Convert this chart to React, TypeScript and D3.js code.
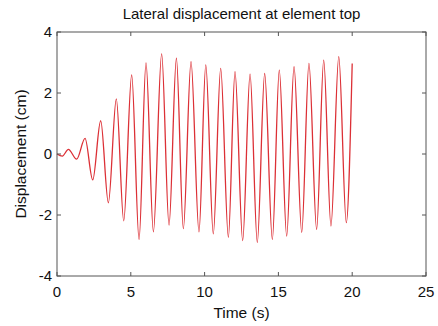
import React from "react";
import * as d3 from "d3";

// turning points of the displacement trace
const times = [
  0, 0.36, 0.77, 1.33, 1.9, 2.42, 2.96, 3.48, 4.02, 4.52, 5.06, 5.56, 6.03,
  6.53, 7.09, 7.59, 8.09, 8.56, 9.08, 9.62, 10.08, 10.59, 11.09, 11.61, 12.06,
  12.58, 13.08, 13.57, 14.07, 14.59, 15.06, 15.56, 16.06, 16.58, 17.07, 17.59,
  18.07, 18.56, 19.09, 19.6, 20.0
];
const displacement = [
  0, -0.07, 0.15, -0.17, 0.51, -0.85, 1.09, -1.6, 1.81, -2.19, 2.59, -2.8,
  2.99, -2.55, 3.28, -2.33, 3.14, -2.45, 3.03, -2.55, 2.92, -2.62, 2.81, -2.73,
  2.7, -2.84, 2.62, -2.9, 2.64, -2.8, 2.75, -2.69, 2.86, -2.57, 2.97, -2.47,
  3.08, -2.36, 3.19, -2.25, 2.97
];
const xTicks = [0, 5, 10, 15, 20, 25];
const yTicks = [-4, -2, 0, 2, 4];

const width = 438,
  height = 326;
const margin = { left: 57, right: 12, top: 32, bottom: 50 };
const font = "'Liberation Sans', Arial, sans-serif";

export default function App() {
  const x = d3
    .scaleLinear()
    .domain([0, 25])
    .range([margin.left, width - margin.right]);
  const y = d3
    .scaleLinear()
    .domain([-4, 4])
    .range([height - margin.bottom, margin.top]);

  const pts: [number, number][] = times.map((t, i) => [t, displacement[i]]);
  const line = d3
    .line<[number, number]>()
    .x(d => x(d[0]))
    .y(d => y(d[1]))
    .curve(d3.curveMonotoneX);

  const x0 = x(0),
    x1 = x(25),
    y0 = y(-4),
    y1 = y(4);
  const tl = 4;
  const axisColor = "#555";

  return (
    <svg
      width={width}
      height={height}
      style={{ position: "absolute", left: 0, top: 0, background: "#fff" }}
    >
      <path
        d={line(pts) || ""}
        fill="none"
        stroke="#dc3036"
        strokeWidth={1.3}
      />
      <rect
        x={x0}
        y={y1}
        width={x1 - x0}
        height={y0 - y1}
        fill="none"
        stroke={axisColor}
        strokeWidth={1}
      />
      {xTicks.map(t => (
        <g key={"x" + t}>
          <line x1={x(t)} x2={x(t)} y1={y0} y2={y0 - tl} stroke={axisColor} />
          <line x1={x(t)} x2={x(t)} y1={y1} y2={y1 + tl} stroke={axisColor} />
          <text
            x={x(t)}
            y={y0 + 20.5}
            textAnchor="middle"
            fontFamily={font}
            fontSize={15}
            fill="#111"
          >
            {t}
          </text>
        </g>
      ))}
      {yTicks.map(t => (
        <g key={"y" + t}>
          <line x1={x0} x2={x0 + tl} y1={y(t)} y2={y(t)} stroke={axisColor} />
          <line x1={x1} x2={x1 - tl} y1={y(t)} y2={y(t)} stroke={axisColor} />
          <text
            x={x0 - 5}
            y={y(t)}
            dy="0.35em"
            textAnchor="end"
            fontFamily={font}
            fontSize={15}
            fill="#111"
          >
            {t}
          </text>
        </g>
      ))}
      <text
        x={(x0 + x1) / 2}
        y={19}
        textAnchor="middle"
        fontFamily={font}
        fontSize={15}
        fill="#111"
      >
        Lateral displacement at element top
      </text>
      <text
        x={(x0 + x1) / 2}
        y={318}
        textAnchor="middle"
        fontFamily={font}
        fontSize={15.5}
        fill="#111"
      >
        Time (s)
      </text>
      <text
        transform={`translate(26,${(y0 + y1) / 2}) rotate(-90)`}
        textAnchor="middle"
        fontFamily={font}
        fontSize={15.5}
        fill="#111"
      >
        Displacement (cm)
      </text>
    </svg>
  );
}
